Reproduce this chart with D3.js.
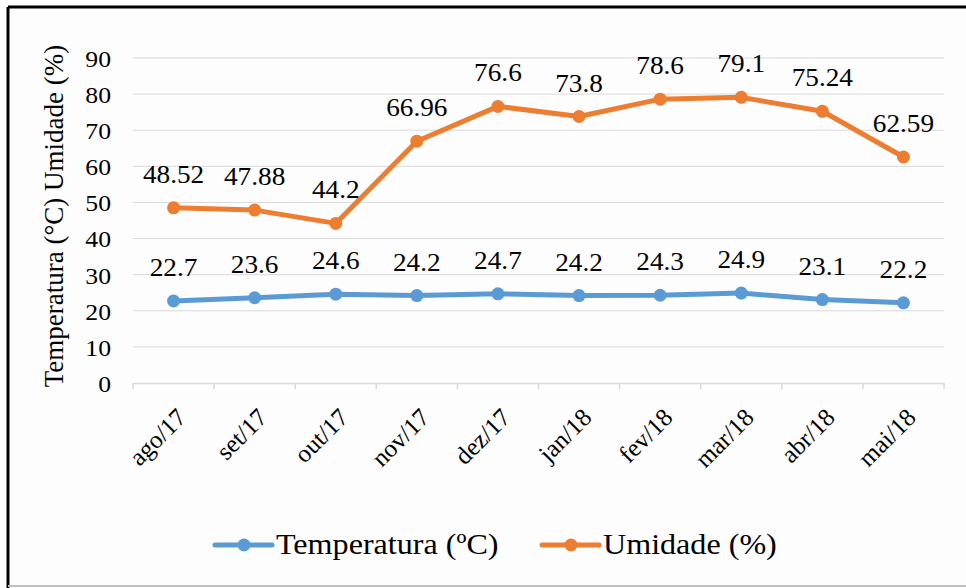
<!DOCTYPE html>
<html>
<head>
<meta charset="utf-8">
<script src="https://cdn.jsdelivr.net/npm/d3@7"></script>
<style>
  body { margin: 0; background: #fff; }
</style>
</head>
<body>
<div id="chart"></div>
<script>
// data
var months = ["ago/17", "set/17", "out/17", "nov/17", "dez/17", "jan/18", "fev/18", "mar/18", "abr/18", "mai/18"];
var temperatura = [22.7, 23.6, 24.6, 24.2, 24.7, 24.2, 24.3, 24.9, 23.1, 22.2];
var umidade = [48.52, 47.88, 44.2, 66.96, 76.6, 73.8, 78.6, 79.1, 75.24, 62.59];
var yTicks = [0, 10, 20, 30, 40, 50, 60, 70, 80, 90];

var svgWidth = 966;
var svgHeight = 588;
var serif = "'Liberation Serif', 'Times New Roman', serif";

var margin = { top: 58, right: 22, bottom: 205, left: 133 };
var width = svgWidth - margin.left - margin.right;
var height = svgHeight - margin.top - margin.bottom;

// the source picture is a little wider than normal Times glyphs
function widen(sel, k) {
  sel.each(function() {
    var w = this.getComputedTextLength();
    this.setAttribute("textLength", w * k);
    this.setAttribute("lengthAdjust", "spacingAndGlyphs");
  });
}

var svg = d3.select("#chart")
  .append("svg")
  .attr("width", svgWidth)
  .attr("height", svgHeight);

// background + frame
svg.append("rect")
  .attr("x", 0).attr("y", 0)
  .attr("width", svgWidth).attr("height", svgHeight)
  .attr("fill", "#fdfdfd");
svg.append("line")
  .attr("x1", 8).attr("x2", svgWidth).attr("y1", 7).attr("y2", 7)
  .attr("stroke", "#000").attr("stroke-width", 3);
svg.append("line")
  .attr("x1", 8).attr("x2", 8).attr("y1", 7).attr("y2", svgHeight)
  .attr("stroke", "#000").attr("stroke-width", 3);
svg.append("line")
  .attr("x1", 8).attr("x2", svgWidth).attr("y1", 586).attr("y2", 586)
  .attr("stroke", "#bfbfbf").attr("stroke-width", 2);

var chartGroup = svg.append("g")
  .attr("transform", `translate(${margin.left}, ${margin.top})`);

var xScale = d3.scaleBand()
  .domain(months)
  .range([0, width]);

var yScale = d3.scaleLinear()
  .domain([0, 90])
  .range([height, 0]);

// gridlines
chartGroup.selectAll(".grid")
  .data(yTicks.filter(d => d > 0))
  .enter()
  .append("line")
  .attr("x1", 0).attr("x2", width)
  .attr("y1", d => yScale(d)).attr("y2", d => yScale(d))
  .attr("stroke", "#d9d9d9")
  .attr("stroke-width", 1);

// y axis labels
var leftAxis = d3.axisLeft(yScale).tickValues(yTicks).tickSize(0).tickPadding(22);
var yAxis = chartGroup.append("g").call(leftAxis);
yAxis.select(".domain").remove();
yAxis.selectAll("text")
  .style("font-family", serif)
  .style("font-size", "24px")
  .attr("fill", "#000")
  .attr("dy", "0.35em");
widen(yAxis.selectAll("text"), 1.07);

// x axis
var bottomAxis = d3.axisBottom(xScale).tickSize(0);
var xAxis = chartGroup.append("g")
  .attr("transform", `translate(0, ${height})`)
  .call(bottomAxis);
xAxis.select(".domain").attr("stroke", "#d9d9d9").attr("stroke-width", 1.5);
xAxis.selectAll(".tick line").remove();
xAxis.selectAll(".tick text")
  .style("font-family", serif)
  .style("font-size", "25px")
  .attr("fill", "#000")
  .attr("text-anchor", "end")
  .attr("dy", 0)
  .attr("transform", "translate(14, 36) rotate(-45)")
  .attr("y", 0).attr("x", 0);

// x tick marks at category boundaries
chartGroup.selectAll(".xtick")
  .data(months.concat(["end"]))
  .enter()
  .append("line")
  .attr("x1", (d, i) => i * xScale.step())
  .attr("x2", (d, i) => i * xScale.step())
  .attr("y1", height).attr("y2", height + 6)
  .attr("stroke", "#d9d9d9")
  .attr("stroke-width", 1.5);

var cx = d => xScale(d) + xScale.bandwidth() / 2;

function drawSeries(values, color) {
  var line = d3.line()
    .x((d, i) => cx(months[i]))
    .y(d => yScale(d));

  chartGroup.append("path")
    .datum(values)
    .attr("d", line)
    .attr("fill", "none")
    .attr("stroke", color)
    .attr("stroke-width", 5)
    .attr("stroke-linejoin", "round");

  chartGroup.selectAll(null)
    .data(values)
    .enter()
    .append("circle")
    .attr("cx", (d, i) => cx(months[i]))
    .attr("cy", d => yScale(d))
    .attr("r", 6.5)
    .attr("fill", color);

  var labels = chartGroup.selectAll(null)
    .data(values)
    .enter()
    .append("text")
    .attr("x", (d, i) => cx(months[i]))
    .attr("y", d => yScale(d) - 25)
    .attr("text-anchor", "middle")
    .style("font-family", serif)
    .style("font-size", "25px")
    .text(d => d);
  widen(labels, 1.09);
}

drawSeries(temperatura, "#5b9bd5");
drawSeries(umidade, "#ed7d31");

// y axis title
svg.append("text")
  .attr("transform", `translate(63, 216) rotate(-90)`)
  .attr("text-anchor", "middle")
  .style("font-family", serif)
  .style("font-size", "27px")
  .text("Temperatura (°C) Umidade (%)");

// legend
var legendItems = [
  { label: "Temperatura (ºC)", color: "#5b9bd5", x: 215 },
  { label: "Umidade (%)", color: "#ed7d31", x: 542 }
];
var legend = svg.selectAll(".legend")
  .data(legendItems)
  .enter()
  .append("g")
  .attr("transform", d => `translate(${d.x}, 545)`);
legend.append("line")
  .attr("x1", 0).attr("x2", 57).attr("y1", 0).attr("y2", 0)
  .attr("stroke", d => d.color).attr("stroke-width", 5)
  .attr("stroke-linecap", "round");
legend.append("circle")
  .attr("cx", 29).attr("cy", 0).attr("r", 6.5)
  .attr("fill", d => d.color);
var legendText = legend.append("text")
  .attr("x", 61).attr("y", 9)
  .style("font-family", serif)
  .style("font-size", "30px")
  .text(d => d.label);
widen(legendText, 1.07);
</script>
</body>
</html>
